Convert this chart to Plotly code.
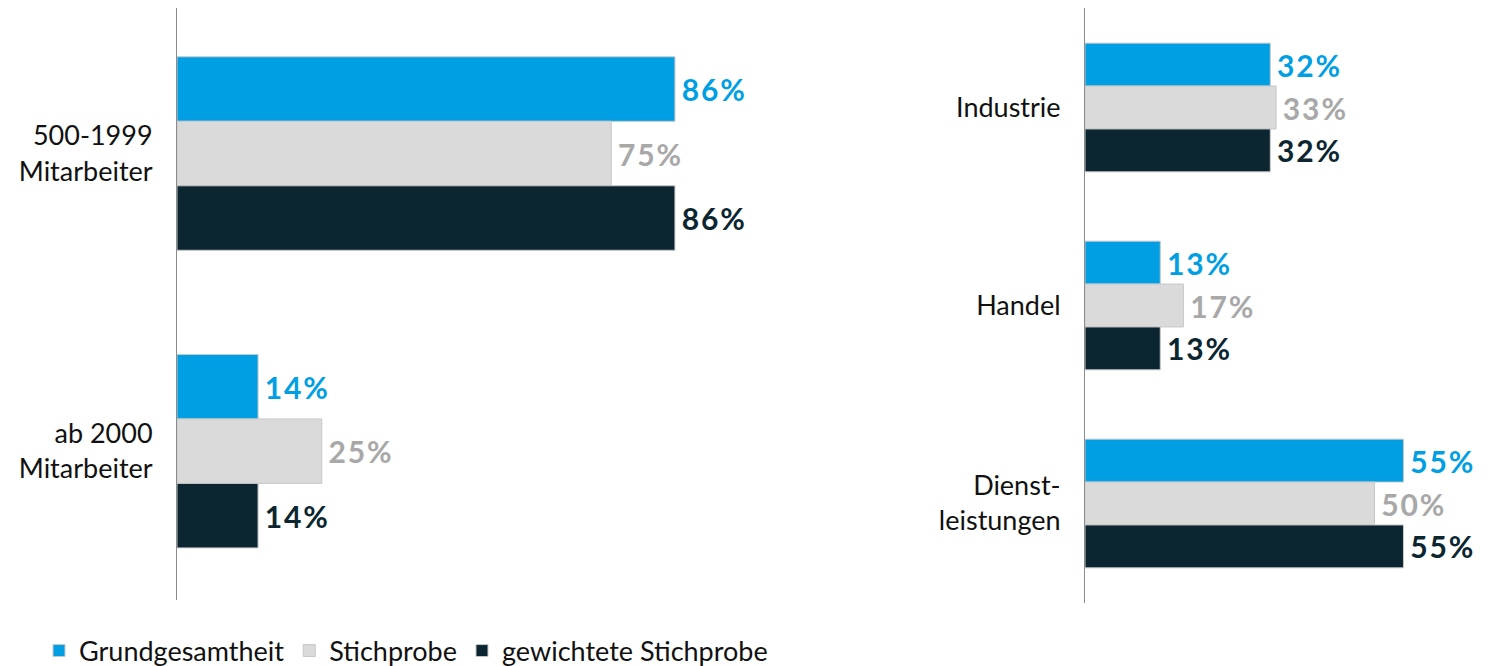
import plotly.graph_objects as go

# data
series = ["Grundgesamtheit", "Stichprobe", "gewichtete Stichprobe"]
size_cats = ["500-1999<br>Mitarbeiter", "ab 2000<br>Mitarbeiter"]
size_vals = [[86, 14], [75, 25], [86, 14]]
branch_cats = ["Industrie", "Handel", "Dienst-<br>leistungen"]
branch_vals = [[32, 13, 55], [33, 17, 50], [32, 13, 55]]

bar_colors = ["#009FE3", "#DADADA", "#0B2630"]
text_colors = ["#009FE3", "#A8A8A8", "#0B2630"]
font = "Lato"
W, H = 1491, 658   # page body has an 8px margin


def pct_label(v):
    # hair spaces to widen the label a little like the original typeface
    return "\u2009" + "\u200a".join(f"{v}%")


fig = go.Figure()
for i, name in enumerate(series):
    for cats, vals, xa, ya, show in [(size_cats, size_vals, "x", "y", True),
                                     (branch_cats, branch_vals, "x2", "y2", False)]:
        fig.add_trace(go.Bar(
            y=cats, x=vals[i], name=name, orientation="h",
            xaxis=xa, yaxis=ya, showlegend=show, legendgroup=name,
            marker=dict(color=bar_colors[i], line=dict(color="#C8C8C8", width=1)),
            text=[pct_label(v) for v in vals[i]], textposition="outside",
            cliponaxis=False, constraintext="none",
            textfont=dict(family=font, size=30, color=text_colors[i], weight="bold"),
        ))

yaxis_common = dict(showline=True, linecolor="#8C8C8C", linewidth=1,
                    showgrid=False, ticks="", ticklabelstandoff=18,
                    tickfont=dict(family=font, size=27, color="#111111"))
xaxis_common = dict(visible=False, showgrid=False, zeroline=False)

fig.update_layout(
    width=W, height=H,
    margin=dict(l=0, r=0, t=0, b=0, autoexpand=False),
    paper_bgcolor="white", plot_bgcolor="white",
    barmode="group", bargap=0.35, bargroupgap=0,
    xaxis=dict(xaxis_common, domain=[169 / W, 748 / W], range=[0, 100]),
    yaxis=dict(yaxis_common, domain=[1 - 592 / H, 1], range=[1.5, -0.489], anchor="x"),
    xaxis2=dict(xaxis_common, domain=[1077 / W, 1.0], range=[0, 71.5]),
    yaxis2=dict(yaxis_common, domain=[1 - 594.5 / H, 1], range=[2.5, -0.5025], anchor="x2"),
    legend=dict(orientation="h", x=31 / W, y=1 - 643 / H, xanchor="left", yanchor="middle",
                font=dict(family=font, size=27, color="#111111"),
                itemwidth=30, tracegroupgap=0),
)

fig.write_html("out.html")
